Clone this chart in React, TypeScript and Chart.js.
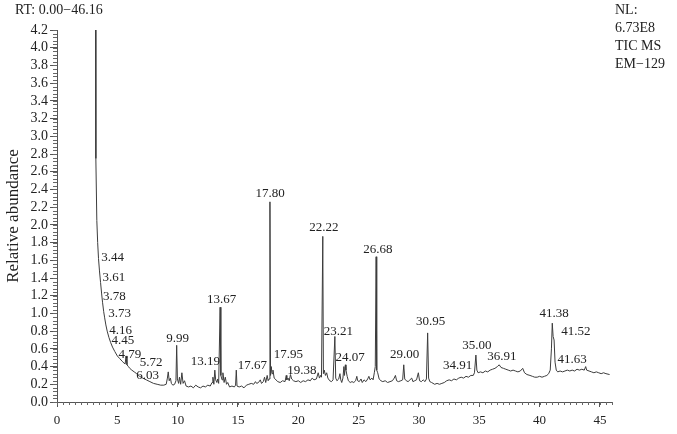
import React, { useEffect, useRef } from 'react';
import { Chart, registerables } from 'chart.js';

Chart.register(...registerables);

const FONT = '"Liberation Serif", "Times New Roman", serif';

// Retention time (min) of trace points
const retentionTimes = [
  3.20, 3.22, 3.30, 3.37, 3.44, 3.52, 3.61, 3.70, 3.78, 3.87,
  3.95, 4.05, 4.16, 4.30, 4.45, 4.60, 4.79, 5.00, 5.20, 5.40,
  5.55, 5.65, 5.72, 5.80, 5.92, 6.03, 6.20, 6.40, 6.60, 6.85,
  7.10, 7.40, 7.70, 8.00, 8.30, 8.60, 8.85, 9.05, 9.15, 9.22,
  9.30, 9.40, 9.48, 9.60, 9.75, 9.86, 9.92, 9.98, 10.08, 10.15,
  10.25, 10.35, 10.45, 10.57, 10.70, 10.90, 11.10, 11.30, 11.50, 11.70,
  11.90, 12.10, 12.30, 12.50, 12.70, 12.85, 12.92, 13.00, 13.08, 13.15,
  13.25, 13.32, 13.40, 13.52, 13.58, 13.68, 13.75, 13.85, 13.95, 14.05,
  14.15, 14.30, 14.50, 14.70, 14.80, 14.86, 14.92, 15.10, 15.30, 15.50,
  15.70, 15.90, 16.10, 16.30, 16.45, 16.55, 16.70, 16.85, 16.95, 17.10,
  17.20, 17.30, 17.42, 17.50, 17.58, 17.65, 17.70, 17.76, 17.82, 17.90,
  18.00, 18.15, 18.30, 18.50, 18.70, 18.90, 19.00, 19.05, 19.15, 19.25,
  19.35, 19.45, 19.60, 19.80, 20.00, 20.20, 20.40, 20.60, 20.80, 21.00,
  21.15, 21.30, 21.50, 21.65, 21.75, 21.85, 21.92, 22.03, 22.08, 22.15,
  22.25, 22.35, 22.45, 22.60, 22.75, 22.88, 23.03, 23.10, 23.20, 23.35,
  23.45, 23.52, 23.60, 23.70, 23.78, 23.83, 23.90, 23.95, 24.05, 24.15,
  24.30, 24.45, 24.60, 24.75, 24.85, 24.92, 25.05, 25.20, 25.30, 25.45,
  25.60, 25.75, 25.85, 25.95, 26.10, 26.20, 26.30, 26.38, 26.45, 26.50,
  26.58, 26.70, 26.85, 27.00, 27.20, 27.40, 27.60, 27.80, 27.95, 28.05,
  28.15, 28.30, 28.50, 28.65, 28.74, 28.82, 28.95, 29.10, 29.25, 29.40,
  29.50, 29.65, 29.80, 29.95, 30.05, 30.20, 30.35, 30.50, 30.62, 30.72,
  30.80, 30.90, 31.05, 31.30, 31.50, 31.70, 31.90, 32.10, 32.30, 32.50,
  32.70, 32.90, 33.10, 33.30, 33.50, 33.70, 33.90, 34.10, 34.30, 34.50,
  34.60, 34.72, 34.80, 34.90, 35.10, 35.30, 35.50, 35.70, 35.90, 36.10,
  36.30, 36.50, 36.65, 36.80, 37.00, 37.20, 37.40, 37.60, 37.80, 38.00,
  38.20, 38.40, 38.60, 38.75, 38.95, 39.20, 39.40, 39.60, 39.80, 40.00,
  40.20, 40.40, 40.60, 40.75, 40.88, 40.98, 41.05, 41.12, 41.20, 41.28,
  41.38, 41.50, 41.70, 41.90, 42.10, 42.30, 42.50, 42.70, 42.90, 43.10,
  43.30, 43.50, 43.70, 43.82, 43.90, 44.10, 44.30, 44.50, 44.70, 44.90,
  45.10, 45.30, 45.50, 45.80,
];

// Relative abundance of trace points
const abundance = [
  4.20, 2.75, 2.05, 1.80, 1.62, 1.48, 1.35, 1.22, 1.12, 1.02,
  0.95, 0.87, 0.80, 0.73, 0.67, 0.62, 0.57, 0.52, 0.49, 0.46,
  0.44, 0.43, 0.52, 0.42, 0.40, 0.38, 0.36, 0.34, 0.32, 0.29,
  0.27, 0.25, 0.23, 0.21, 0.20, 0.19, 0.19, 0.20, 0.27, 0.34,
  0.24, 0.27, 0.21, 0.19, 0.20, 0.24, 0.64, 0.26, 0.21, 0.28,
  0.20, 0.33, 0.21, 0.24, 0.18, 0.17, 0.18, 0.16, 0.19, 0.17,
  0.16, 0.18, 0.17, 0.19, 0.18, 0.22, 0.28, 0.20, 0.36, 0.25,
  0.22, 0.26, 0.21, 1.07, 0.30, 0.25, 0.33, 0.22, 0.28, 0.20,
  0.22, 0.17, 0.18, 0.17, 0.19, 0.36, 0.18, 0.17, 0.18, 0.16,
  0.19, 0.20, 0.21, 0.20, 0.23, 0.21, 0.22, 0.25, 0.21, 0.23,
  0.28, 0.22, 0.30, 0.24, 0.26, 2.26, 0.30, 0.40, 0.32, 0.36,
  0.27, 0.25, 0.23, 0.22, 0.24, 0.23, 0.30, 0.25, 0.27, 0.24,
  0.31, 0.26, 0.24, 0.23, 0.24, 0.22, 0.24, 0.23, 0.25, 0.24,
  0.27, 0.25, 0.26, 0.33, 0.27, 0.30, 0.28, 1.87, 0.32, 0.36,
  0.30, 0.33, 0.27, 0.24, 0.23, 0.25, 0.74, 0.27, 0.24, 0.26,
  0.32, 0.25, 0.22, 0.27, 0.40, 0.30, 0.42, 0.36, 0.29, 0.24,
  0.22, 0.23, 0.22, 0.24, 0.29, 0.24, 0.23, 0.26, 0.22, 0.25,
  0.23, 0.26, 0.29, 0.25, 0.27, 0.25, 0.33, 0.40, 1.64, 0.36,
  0.33, 0.26, 0.24, 0.23, 0.24, 0.22, 0.23, 0.24, 0.27, 0.30,
  0.24, 0.23, 0.24, 0.25, 0.42, 0.26, 0.24, 0.23, 0.25, 0.27,
  0.23, 0.24, 0.25, 0.33, 0.24, 0.23, 0.25, 0.23, 0.26, 0.78,
  0.27, 0.23, 0.22, 0.20, 0.21, 0.20, 0.21, 0.22, 0.24, 0.25,
  0.24, 0.26, 0.25, 0.27, 0.28, 0.27, 0.29, 0.28, 0.30, 0.30,
  0.33, 0.53, 0.36, 0.33, 0.34, 0.33, 0.35, 0.34, 0.36, 0.37,
  0.38, 0.40, 0.42, 0.39, 0.38, 0.37, 0.36, 0.35, 0.36, 0.35,
  0.34, 0.35, 0.38, 0.33, 0.31, 0.30, 0.29, 0.28, 0.28, 0.29,
  0.28, 0.29, 0.30, 0.32, 0.36, 0.60, 0.89, 0.74, 0.70, 0.45,
  0.36, 0.34, 0.35, 0.34, 0.35, 0.36, 0.35, 0.36, 0.35, 0.37,
  0.36, 0.37, 0.36, 0.40, 0.36, 0.35, 0.34, 0.33, 0.34, 0.33,
  0.32, 0.33, 0.32, 0.31,
];

// Peak annotation texts and where they sit (in data units)
const peakLabels = [
  '3.44', '3.61', '3.78', '3.73', '4.16', '4.45', '4.79', '5.72', '6.03', '9.99',
  '13.19', '13.67', '17.67', '17.80', '17.95', '19.38', '22.22', '23.21', '24.07', '26.68',
  '29.00', '30.95', '34.91', '35.00', '36.91', '41.38', '41.52', '41.63',
];
const peakLabelRT = [
  4.62, 4.71, 4.75, 5.20, 5.28, 5.45, 6.03, 7.80, 7.51, 9.99,
  12.30, 13.65, 16.19, 17.67, 19.18, 20.29, 22.11, 23.33, 24.29, 26.59,
  28.82, 30.97, 33.20, 34.81, 36.87, 41.21, 43.00, 42.69,
];
const peakLabelAbundance = [
  1.63, 1.40, 1.19, 1.00, 0.81, 0.69, 0.54, 0.44, 0.30, 0.72,
  0.46, 1.16, 0.41, 2.35, 0.54, 0.35, 1.97, 0.80, 0.50, 1.72,
  0.53, 0.91, 0.41, 0.64, 0.51, 1.00, 0.79, 0.48,
];

const xTickValues = [0, 5, 10, 15, 20, 25, 30, 35, 40, 45];

const minorTicksPlugin = {
  id: 'minorTicks',
  afterDraw(chart: any) {
    const { ctx, chartArea } = chart;
    const x = chart.scales.x;
    const y = chart.scales.y;
    ctx.save();
    ctx.strokeStyle = '#666';
    ctx.lineWidth = 1;
    ctx.beginPath();
    for (let i = 0; i <= 105; i++) {
      const py = Math.round(y.getPixelForValue(i * 0.04)) + 0.5;
      ctx.moveTo(chartArea.left - 4, py);
      ctx.lineTo(chartArea.left, py);
    }
    for (let i = 0; i <= 92; i++) {
      const px = Math.round(x.getPixelForValue(i * 0.5)) + 0.5;
      ctx.moveTo(px, chartArea.bottom);
      ctx.lineTo(px, chartArea.bottom + 3);
    }
    ctx.stroke();
    ctx.restore();
  },
};

const peakLabelPlugin = {
  id: 'peakLabels',
  afterDatasetsDraw(chart: any) {
    const { ctx } = chart;
    const x = chart.scales.x;
    const y = chart.scales.y;
    ctx.save();
    ctx.font = `13px ${FONT}`;
    ctx.fillStyle = '#222';
    ctx.textAlign = 'center';
    ctx.textBaseline = 'middle';
    peakLabels.forEach((t, i) => {
      ctx.fillText(t, x.getPixelForValue(peakLabelRT[i]), y.getPixelForValue(peakLabelAbundance[i]));
    });
    ctx.restore();
  },
};

export default function App() {
  const ref = useRef<HTMLCanvasElement>(null);

  useEffect(() => {
    const chart = new Chart(ref.current as HTMLCanvasElement, {
      type: 'line',
      data: {
        datasets: [
          {
            data: retentionTimes.map((t, i) => ({ x: t, y: abundance[i] })),
            borderColor: '#3c3c3c',
            borderWidth: 1,
            pointRadius: 0,
            tension: 0,
            fill: false,
          },
        ],
      },
      options: {
        responsive: false,
        animation: false,
        layout: { padding: { left: 0, top: 30, right: 65, bottom: 0 } },
        plugins: { legend: { display: false }, tooltip: { enabled: false } },
        scales: {
          x: {
            type: 'linear',
            min: 0,
            max: 46,
            afterBuildTicks: (s: any) => {
              s.ticks = xTickValues.map((v) => ({ value: v }));
            },
            afterFit: (s: any) => {
              s.height = 32;
            },
            grid: { drawOnChartArea: false, drawTicks: true, tickLength: 5, color: '#555' },
            border: { display: true, color: '#555', width: 1 },
            ticks: {
              padding: 6,
              color: '#222',
              font: { size: 13, family: FONT },
              maxRotation: 0,
              autoSkip: false,
            },
          },
          y: {
            type: 'linear',
            min: 0,
            max: 4.2,
            afterFit: (s: any) => {
              s.width = 57;
            },
            grid: { drawOnChartArea: false, drawTicks: true, tickLength: 7, color: '#555' },
            border: { display: true, color: '#555', width: 1 },
            ticks: {
              stepSize: 0.2,
              padding: 2,
              autoSkip: false,
              color: '#222',
              font: { size: 14, family: FONT },
              callback: (v: any) => Number(v).toFixed(1),
            },
            title: {
              display: true,
              text: 'Relative abundance',
              color: '#222',
              font: { size: 17, family: FONT },
              padding: { top: 3, bottom: 4 },
            },
          },
        },
      },
      plugins: [minorTicksPlugin, peakLabelPlugin],
    } as any);
    return () => chart.destroy();
  }, []);

  return (
    <div
      style={{
        position: 'absolute',
        left: 0,
        top: 0,
        width: 677,
        height: 434,
        background: '#fff',
        fontFamily: FONT,
        color: '#222',
      }}
    >
      <canvas ref={ref} width={677} height={434} style={{ position: 'absolute', left: 0, top: 0 }} />
      <div style={{ position: 'absolute', left: 15, top: 2, fontSize: 14, lineHeight: '16px', whiteSpace: 'nowrap' }}>
        RT: 0.00−46.16
      </div>
      <div style={{ position: 'absolute', left: 615, top: 1, fontSize: 14, lineHeight: '18px', whiteSpace: 'nowrap' }}>
        NL:
        <br />
        6.73E8
        <br />
        TIC MS
        <br />
        EM−129
      </div>
    </div>
  );
}
